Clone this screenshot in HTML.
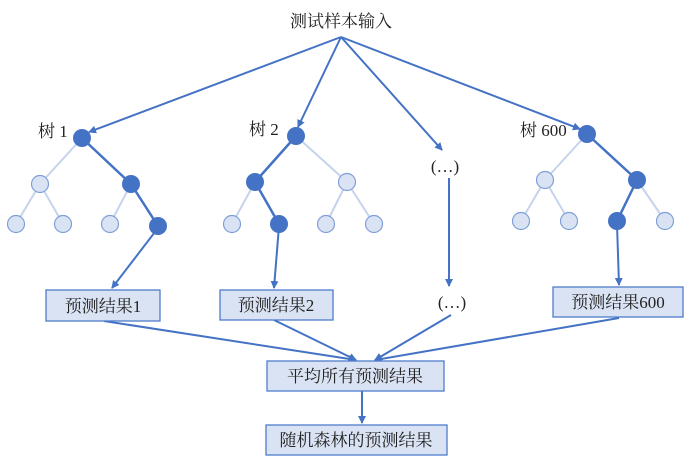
<!DOCTYPE html>
<html><head><meta charset="utf-8"><style>
html,body{margin:0;padding:0;background:#fff;}
svg{display:block;}
text{font-family:"Liberation Serif","Noto Serif CJK SC","Noto Sans CJK SC",serif;fill:#222;}
</style></head><body>
<svg width="690" height="465" viewBox="0 0 690 465" xmlns="http://www.w3.org/2000/svg">
<defs>
<marker id="a" markerWidth="8" markerHeight="8" refX="7" refY="4" orient="auto" markerUnits="userSpaceOnUse">
<path d="M0,0 L8,4 L0,8 Z" fill="#4472c4"/></marker>
</defs>
<g stroke="#4472c4" stroke-width="2" fill="none" marker-end="url(#a)">
<line x1="341" y1="37" x2="89" y2="132"/>
<line x1="341" y1="37" x2="298" y2="127"/>
<line x1="341" y1="37" x2="442" y2="150"/>
<line x1="341" y1="37" x2="580" y2="129"/>
<line x1="158" y1="228" x2="112" y2="288"/>
<line x1="279" y1="226" x2="274" y2="288"/>
<line x1="449" y1="178" x2="449" y2="286"/>
<line x1="617" y1="224" x2="619" y2="285"/>
<line x1="104" y1="321" x2="356" y2="360"/>
<line x1="274" y1="320" x2="356" y2="360"/>
<line x1="451" y1="315" x2="375" y2="360"/>
<line x1="619" y1="318" x2="375" y2="360"/>
<line x1="362" y1="391" x2="362" y2="423"/>
</g>
<!-- light edges -->
<g stroke="#c5d3ec" stroke-width="2">
<line x1="82" y1="138" x2="40" y2="184"/><line x1="40" y1="184" x2="16" y2="224"/><line x1="40" y1="184" x2="63" y2="224"/><line x1="131" y1="184" x2="110" y2="224"/>
<line x1="296" y1="136" x2="347" y2="182"/><line x1="255" y1="182" x2="232" y2="224"/><line x1="347" y1="182" x2="326" y2="224"/><line x1="347" y1="182" x2="374" y2="224"/>
<line x1="587" y1="134" x2="545" y2="180"/><line x1="545" y1="180" x2="521" y2="221"/><line x1="545" y1="180" x2="569" y2="221"/><line x1="637" y1="180" x2="665" y2="221"/>
</g>
<g stroke="#4472c4" stroke-width="2.5">
<line x1="82" y1="138" x2="131" y2="184"/><line x1="131" y1="184" x2="158" y2="226"/>
<line x1="296" y1="136" x2="255" y2="182"/><line x1="255" y1="182" x2="279" y2="224"/>
<line x1="587" y1="134" x2="637" y2="180"/><line x1="637" y1="180" x2="617" y2="221"/>
</g>
<g fill="#dae3f3" stroke="#7f9fd8" stroke-width="1.2">
<circle cx="40" cy="184" r="8.5"/><circle cx="16" cy="224" r="8.5"/><circle cx="63" cy="224" r="8.5"/><circle cx="110" cy="224" r="8.5"/>
<circle cx="347" cy="182" r="8.5"/><circle cx="232" cy="224" r="8.5"/><circle cx="326" cy="224" r="8.5"/><circle cx="374" cy="224" r="8.5"/>
<circle cx="545" cy="180" r="8.5"/><circle cx="521" cy="221" r="8.5"/><circle cx="569" cy="221" r="8.5"/><circle cx="665" cy="221" r="8.5"/>
</g>
<g fill="#4472c4">
<circle cx="82" cy="138" r="9"/><circle cx="131" cy="184" r="9"/><circle cx="158" cy="226" r="9"/>
<circle cx="296" cy="136" r="9"/><circle cx="255" cy="182" r="9"/><circle cx="279" cy="224" r="9"/>
<circle cx="587" cy="134" r="9"/><circle cx="637" cy="180" r="9"/><circle cx="617" cy="221" r="9"/>
</g>
<g fill="#dae3f3" stroke="#4f7ccc" stroke-width="1.3">
<rect x="46" y="290" width="114" height="31"/>
<rect x="220" y="290" width="113" height="30"/>
<rect x="553" y="287" width="130" height="30"/>
<rect x="267" y="361" width="177" height="30"/>
<rect x="266" y="425" width="181" height="30"/>
</g>
<g font-size="17">
<text x="341" y="27" text-anchor="middle">测试样本输入</text>
<text x="38" y="137">树 1</text>
<text x="249" y="135">树 2</text>
<text x="520" y="136">树 600</text>
<text x="445" y="172" text-anchor="middle">(…)</text>
<text x="452" y="308" text-anchor="middle">(…)</text>
<text x="103" y="312" text-anchor="middle">预测结果1</text>
<text x="276" y="311" text-anchor="middle">预测结果2</text>
<text x="618" y="308" text-anchor="middle">预测结果600</text>
<text x="355" y="382" text-anchor="middle">平均所有预测结果</text>
<text x="356" y="446" text-anchor="middle">随机森林的预测结果</text>
</g>
</svg>
</body></html>
